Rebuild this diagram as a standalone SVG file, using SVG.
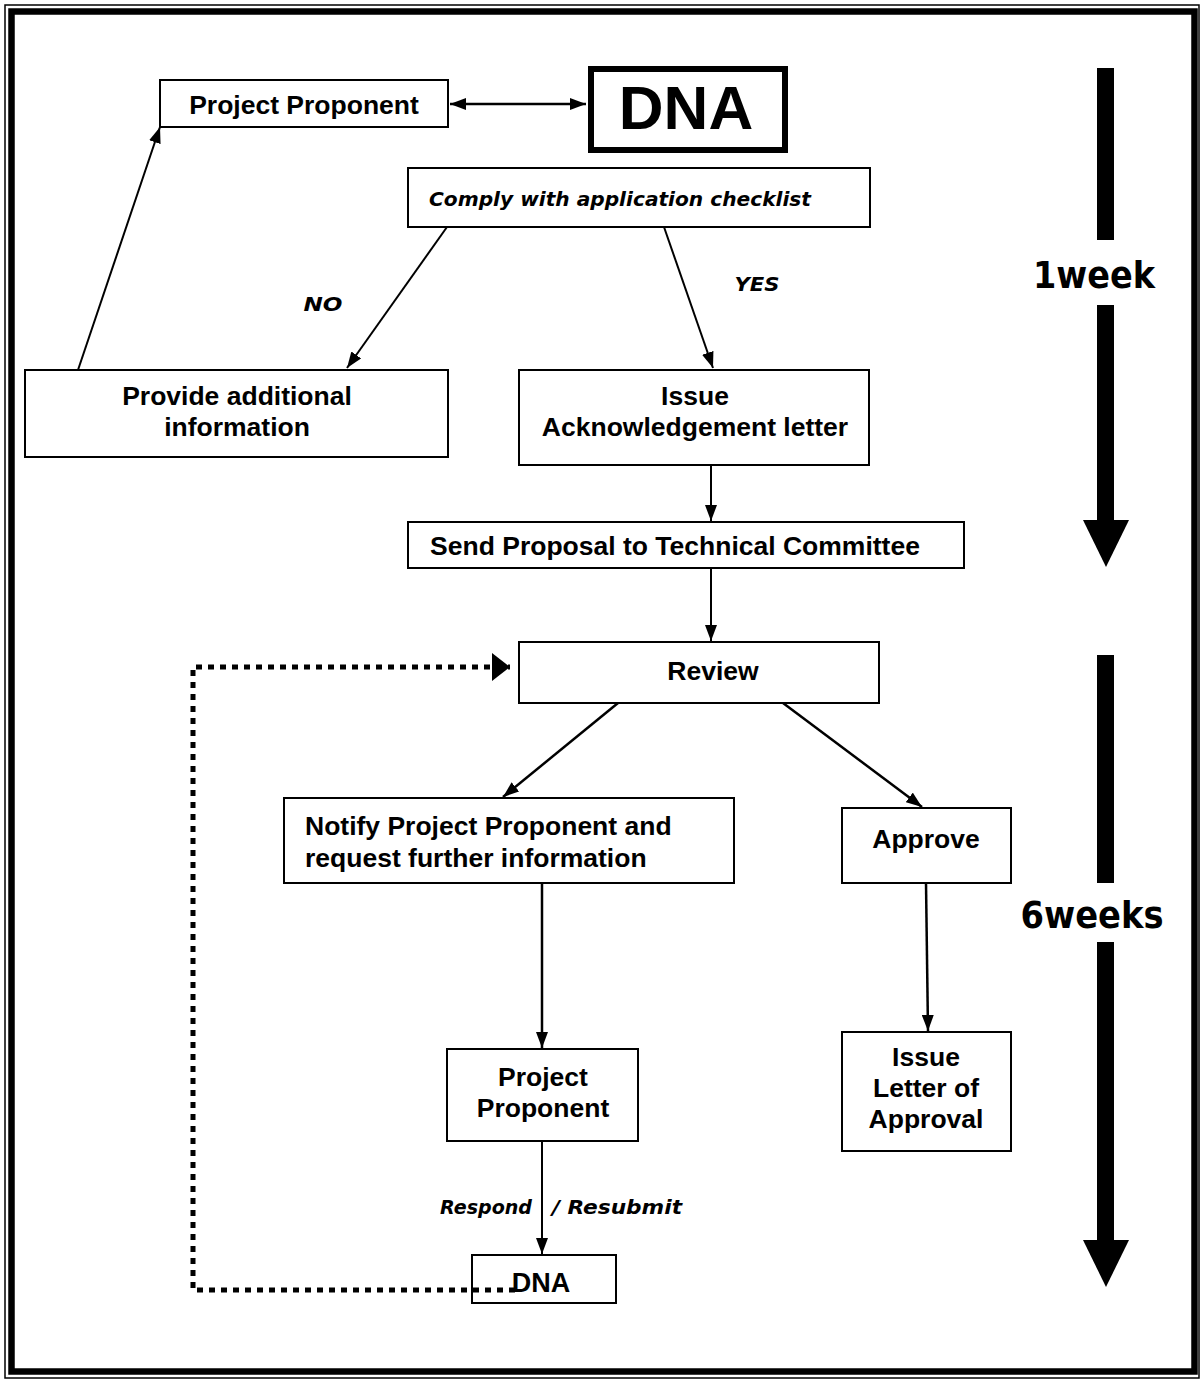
<svg xmlns="http://www.w3.org/2000/svg" width="1201" height="1381" viewBox="0 0 1201 1381">
<style>
.box{fill:#fff;stroke:#000;stroke-width:2}
.t{font-family:"Liberation Sans",Arial,sans-serif;font-weight:bold;font-size:26.5px;fill:#000;text-anchor:middle}
.c{font-family:"DejaVu Sans","Liberation Sans",sans-serif;font-weight:bold;font-style:italic;fill:#000}
.ln{stroke:#000;stroke-width:2;fill:none}
</style>
<defs>
<marker id="ah" viewBox="0 0 16 12" refX="16" refY="6" markerWidth="16" markerHeight="12" markerUnits="userSpaceOnUse" orient="auto-start-reverse">
<path d="M0,0 L16,6 L0,12 Z" fill="#000"/>
</marker>
<marker id="ahd" viewBox="0 0 18 28" refX="18" refY="14" markerWidth="18" markerHeight="28" markerUnits="userSpaceOnUse" orient="auto">
<path d="M0,0 L18,14 L0,28 Z" fill="#000"/>
</marker>
</defs>
<rect width="1201" height="1381" fill="#fff"/>
<rect x="5" y="5" width="1194" height="1373" fill="none" stroke="#000" stroke-width="1.5"/>
<rect x="11.5" y="11.5" width="1183" height="1360" fill="none" stroke="#000" stroke-width="6.5"/>

<g id="timeline">
<rect x="1097" y="68" width="17" height="172" fill="#000"/>
<text class="c" x="1094" y="288" font-size="38" text-anchor="middle" textLength="122" lengthAdjust="spacingAndGlyphs" style="font-style:normal">1week</text>
<rect x="1097" y="305" width="17" height="217" fill="#000"/>
<path d="M1083,520 L1129,520 L1106,567 Z" fill="#000"/>
<rect x="1097" y="655" width="17" height="228" fill="#000"/>
<text class="c" x="1092" y="928" font-size="38" text-anchor="middle" textLength="143" lengthAdjust="spacingAndGlyphs" style="font-style:normal">6weeks</text>
<rect x="1097" y="942" width="17" height="300" fill="#000"/>
<path d="M1083,1240 L1129,1240 L1106,1287 Z" fill="#000"/>
</g>

<g id="node-pp1">
<rect class="box" x="160" y="80" width="288" height="47"/>
<text class="t" x="304" y="114">Project Proponent</text>
</g>
<g id="node-dna1">
<rect x="591" y="69" width="194" height="81" fill="#fff" stroke="#000" stroke-width="6"/>
<text class="t" x="686" y="129" style="font-size:62px">DNA</text>
</g>
<g id="node-comply">
<rect class="box" x="408" y="168" width="462" height="59"/>
<text class="c" x="620" y="206" font-size="20" text-anchor="middle" textLength="382" lengthAdjust="spacingAndGlyphs">Comply with application checklist</text>
</g>
<g id="node-provide">
<rect class="box" x="25" y="370" width="423" height="87"/>
<text class="t" x="237" y="405">Provide additional</text>
<text class="t" x="237" y="436">information</text>
</g>
<g id="node-issue-ack">
<rect class="box" x="519" y="370" width="350" height="95"/>
<text class="t" x="695" y="405">Issue</text>
<text class="t" x="695" y="436">Acknowledgement letter</text>
</g>
<g id="node-send">
<rect class="box" x="408" y="522" width="556" height="46"/>
<text class="t" x="675" y="555">Send Proposal to Technical Committee</text>
</g>
<g id="node-review">
<rect class="box" x="519" y="642" width="360" height="61"/>
<text class="t" x="713" y="680">Review</text>
</g>
<g id="node-notify">
<rect class="box" x="284" y="798" width="450" height="85"/>
<text class="t" x="305" y="835" style="text-anchor:start">Notify Project Proponent and</text>
<text class="t" x="305" y="867" style="text-anchor:start">request further information</text>
</g>
<g id="node-approve">
<rect class="box" x="842" y="808" width="169" height="75"/>
<text class="t" x="926" y="848">Approve</text>
</g>
<g id="node-pp2">
<rect class="box" x="447" y="1049" width="191" height="92"/>
<text class="t" x="543" y="1086">Project</text>
<text class="t" x="543" y="1117">Proponent</text>
</g>
<g id="node-issue-letter">
<rect class="box" x="842" y="1032" width="169" height="119"/>
<text class="t" x="926" y="1066">Issue</text>
<text class="t" x="926" y="1097">Letter of</text>
<text class="t" x="926" y="1128">Approval</text>
</g>
<g id="node-dna2">
<rect class="box" x="472" y="1255" width="144" height="48"/>
<text class="t" x="541" y="1292" style="font-size:27px">DNA</text>
</g>

<g id="connectors">
<line class="ln" x1="450" y1="104" x2="586" y2="104" marker-start="url(#ah)" marker-end="url(#ah)" style="stroke-width:2.5"/>
<line class="ln" x1="447" y1="227" x2="347" y2="368" marker-end="url(#ah)"/>
<line class="ln" x1="664" y1="227" x2="713" y2="368" marker-end="url(#ah)"/>
<line class="ln" x1="78" y1="370" x2="160" y2="127" marker-end="url(#ah)"/>
<line class="ln" x1="711" y1="465" x2="711" y2="521" marker-end="url(#ah)"/>
<line class="ln" x1="711" y1="568" x2="711" y2="641" marker-end="url(#ah)"/>
<line class="ln" x1="618" y1="703" x2="503" y2="797" marker-end="url(#ah)" style="stroke-width:2.5"/>
<line class="ln" x1="783" y1="703" x2="922" y2="807" marker-end="url(#ah)" style="stroke-width:2.5"/>
<line class="ln" x1="542" y1="883" x2="542" y2="1048" marker-end="url(#ah)" style="stroke-width:2.5"/>
<line class="ln" x1="926" y1="883" x2="928" y2="1031" marker-end="url(#ah)" style="stroke-width:2.5"/>
<line class="ln" x1="542" y1="1141" x2="542" y2="1254" marker-end="url(#ah)"/>
<polyline points="515,1290 193,1290 193,667 510,667" fill="none" stroke="#000" stroke-width="5" stroke-dasharray="6,6" marker-end="url(#ahd)"/>
<text class="c" x="323" y="311" font-size="19" text-anchor="middle" textLength="39" lengthAdjust="spacingAndGlyphs">NO</text>
<text class="c" x="757" y="291" font-size="19" text-anchor="middle" textLength="45" lengthAdjust="spacingAndGlyphs">YES</text>
<text class="c" x="486" y="1214" font-size="20" text-anchor="middle" textLength="92" lengthAdjust="spacingAndGlyphs">Respond</text>
<text class="c" x="617" y="1214" font-size="20" text-anchor="middle" textLength="130" lengthAdjust="spacingAndGlyphs">/ Resubmit</text>
</g>
</svg>
